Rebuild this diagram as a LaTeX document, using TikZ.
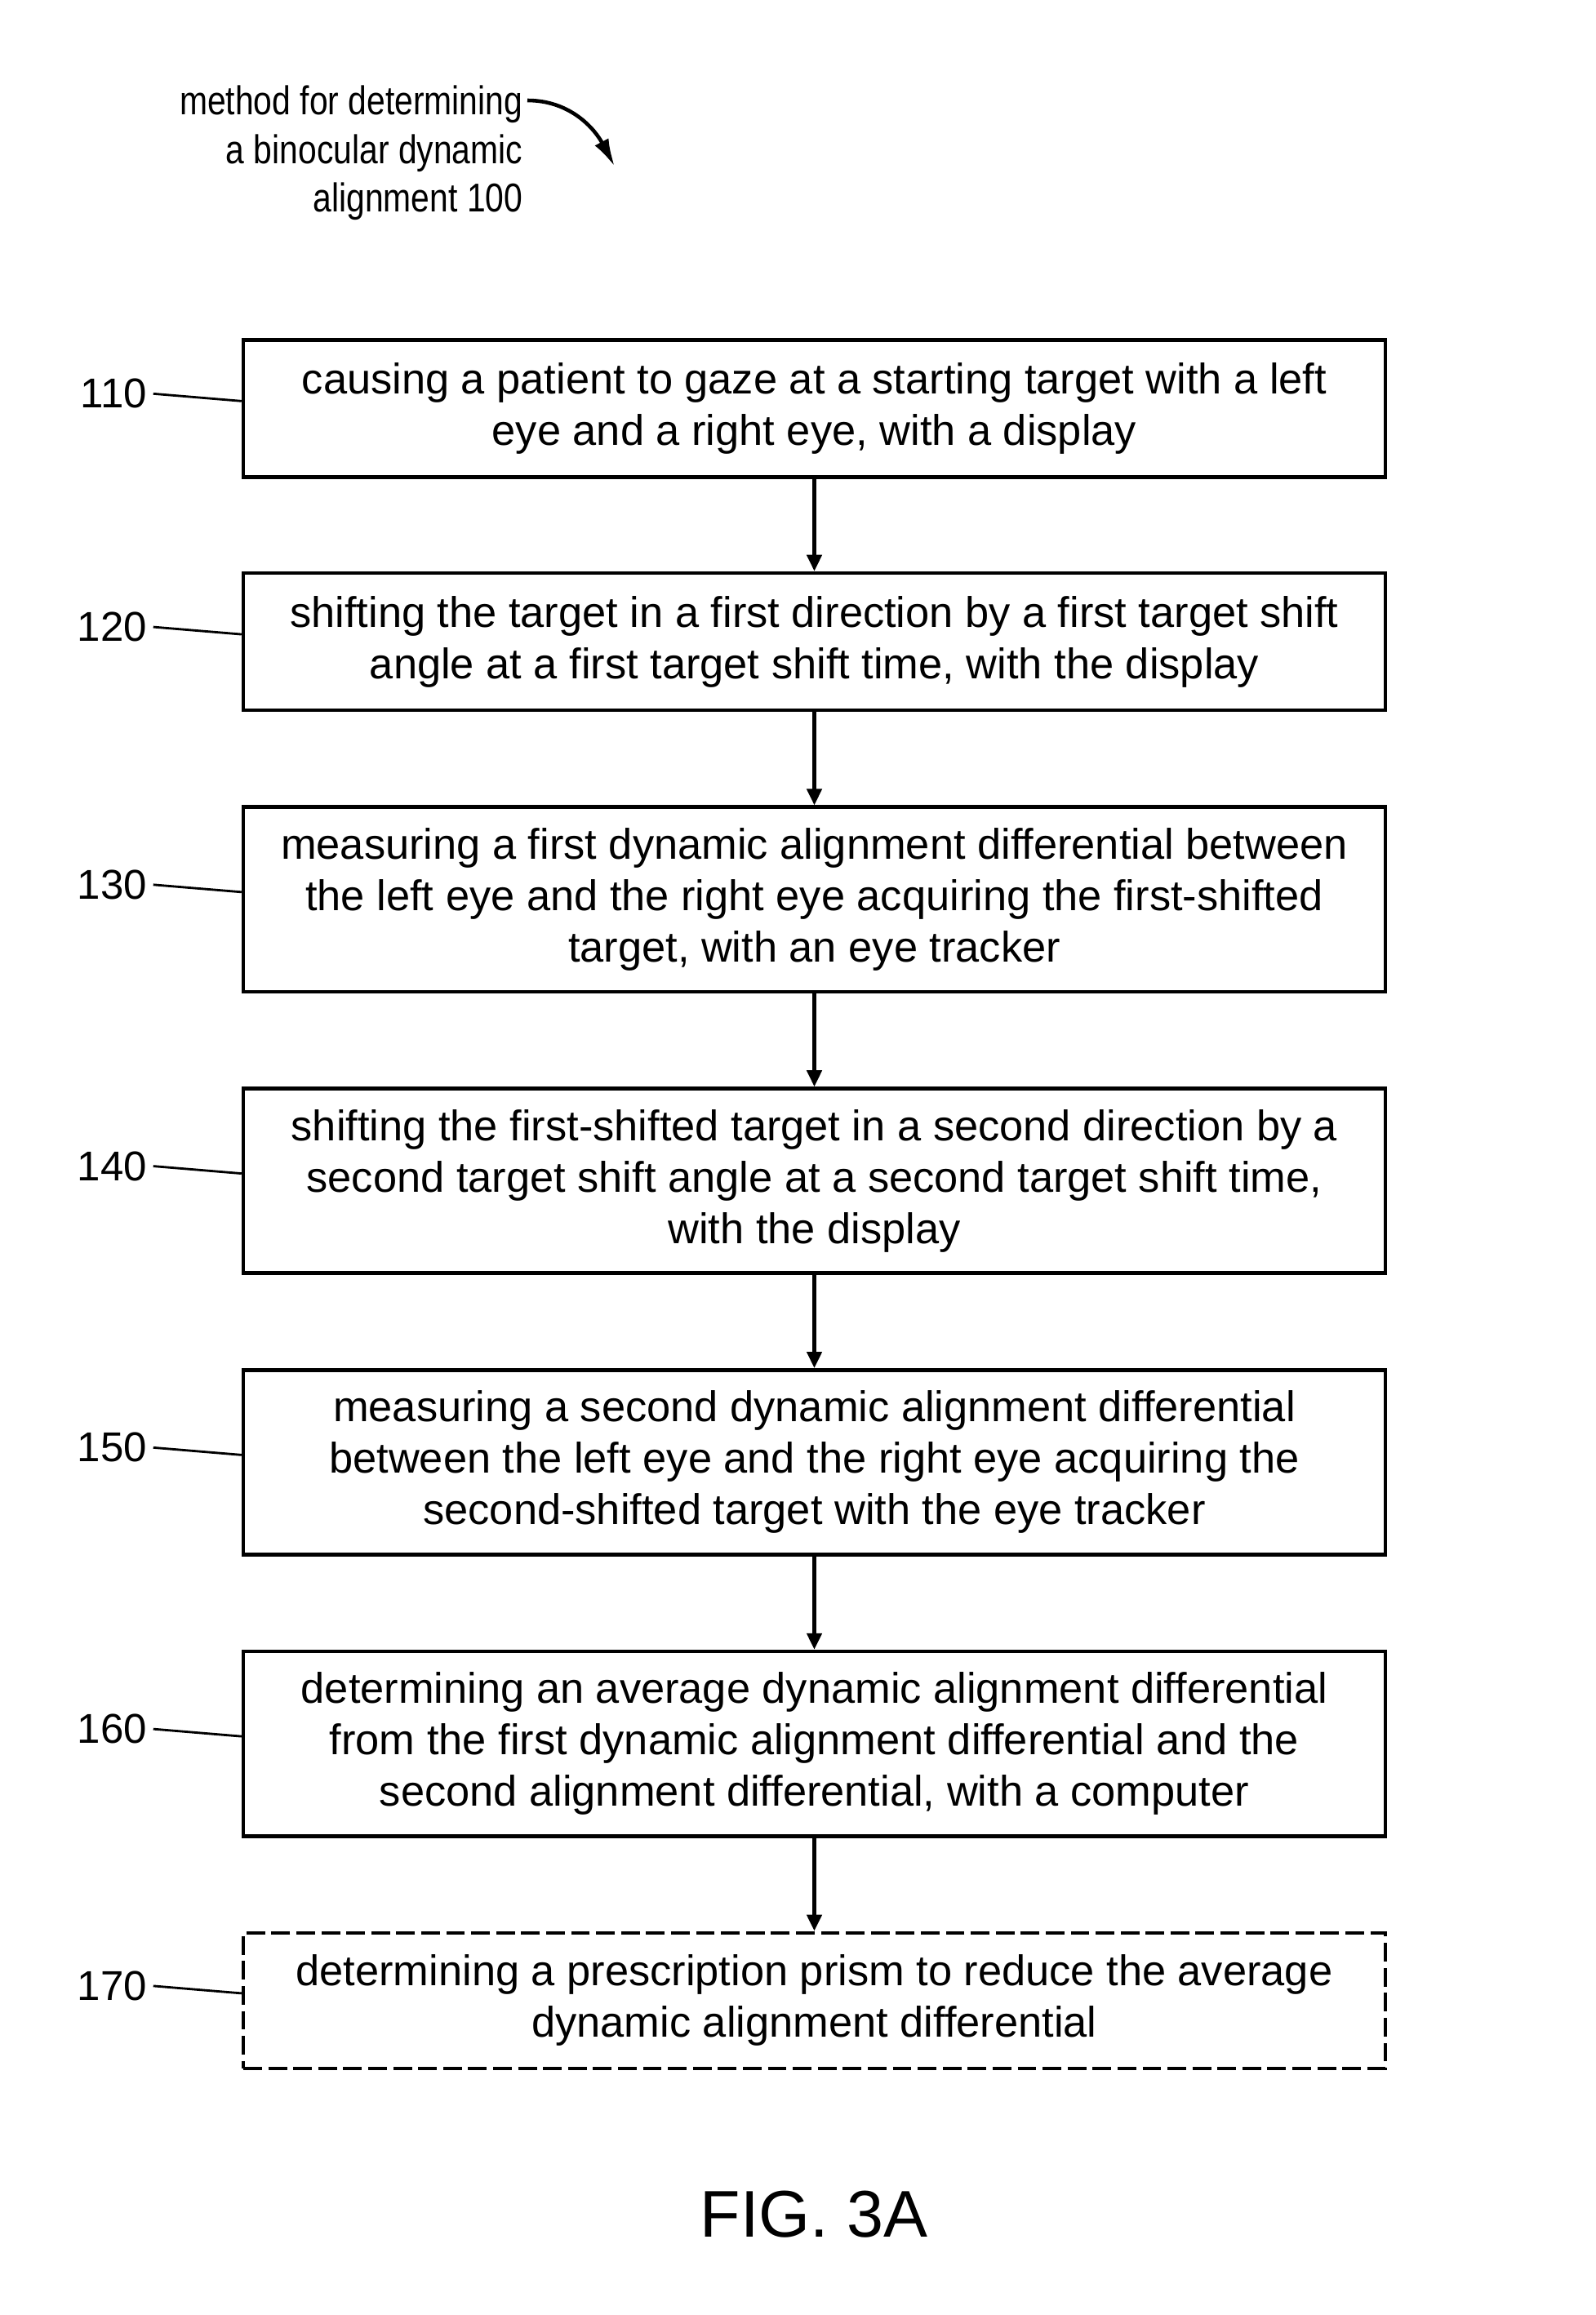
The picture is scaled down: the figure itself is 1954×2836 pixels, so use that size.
\documentclass[tikz,border=0pt]{standalone}
\usepackage{fontspec}
\setmainfont{Liberation Sans}
\newfontfamily\narrowfont[FakeStretch=0.83]{Liberation Sans}
\usepackage{tikz}
\usetikzlibrary{positioning,arrows.meta}
\tikzset{
  stepbox/.style={draw,line width=1.3pt,minimum width=13.98cm,align=center,
    font=\fontsize{14.9}{17.9}\selectfont,inner sep=2pt},
  optbox/.style={stepbox,dashed,dash pattern=on 6.5pt off 2.2pt},
  flow/.style={line width=1.3pt,-{Triangle[length=0.2cm,width=0.18cm]}},
  leader/.style={line width=0.8pt},
  reflabel/.style={font=\fontsize{14.5}{16}\selectfont,anchor=east,inner sep=2pt}
}
\begin{document}
\begin{tikzpicture}[x=0.01cm,y=-0.01cm]
\useasboundingbox (0,0) rectangle (1954,2836);
% title with curved arrow
\node[font=\narrowfont\fontsize{14}{17}\selectfont,align=right,anchor=north east,inner sep=0pt]
  (title) at (641,104) {method for determining\\a binocular dynamic\\alignment 100};
\coordinate (tstart) at (646,123);
\coordinate (tend) at (753,204);
\draw[line width=1.3pt,-{Latex[length=0.34cm,width=0.19cm]}] (tstart) to[out=0,in=118] (tend);
% steps
\node[stepbox,minimum height=1.68cm,anchor=north] (s110) at (997.5,414)
  {causing a patient to gaze at a starting target with a left\\eye and a right eye, with a display};
\node[stepbox,minimum height=1.68cm,below=1.13cm of s110] (s120)
  {shifting the target in a first direction by a first target shift\\angle at a first target shift time, with the display};
\node[stepbox,minimum height=2.26cm,below=1.14cm of s120] (s130)
  {measuring a first dynamic alignment differential between\\the left eye and the right eye acquiring the first-shifted\\target, with an eye tracker};
\node[stepbox,minimum height=2.26cm,below=1.14cm of s130] (s140)
  {shifting the first-shifted target in a second direction by a\\second target shift angle at a second target shift time,\\with the display};
\node[stepbox,minimum height=2.26cm,below=1.14cm of s140] (s150)
  {measuring a second dynamic alignment differential\\between the left eye and the right eye acquiring the\\second-shifted target with the eye tracker};
\node[stepbox,minimum height=2.26cm,below=1.14cm of s150] (s160)
  {determining an average dynamic alignment differential\\from the first dynamic alignment differential and the\\second alignment differential, with a computer};
\node[optbox,minimum height=1.66cm,below=1.14cm of s160] (s170)
  {determining a prescription prism to reduce the average\\dynamic alignment differential};
% connectors
\foreach \a/\b in {110/120,120/130,130/140,140/150,150/160,160/170}
  \draw[flow] (s\a) -- (s\b);
% reference numerals
\foreach \n in {110,120,130,140,150,160,170}{
  \node[reflabel] (l\n) at ([xshift=-1.08cm,yshift=0.18cm]s\n.west) {\n};
  \draw[leader] (l\n.east) -- ([yshift=0.09cm]s\n.west);
}
\node[font=\fontsize{23}{27}\selectfont] (fig) at (997,2713) {FIG. 3A};
\end{tikzpicture}
\end{document}
